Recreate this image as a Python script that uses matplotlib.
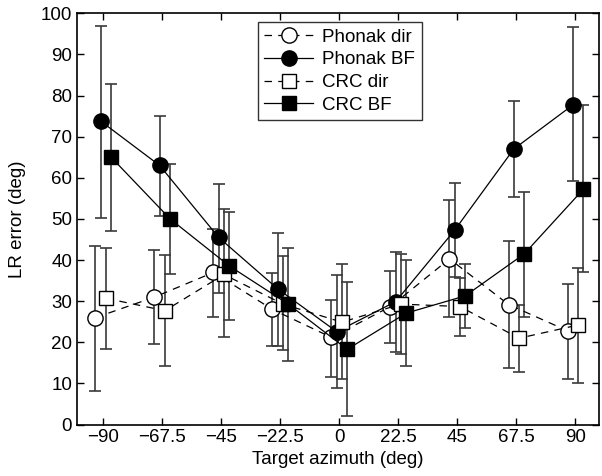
import numpy as np
import matplotlib
matplotlib.use('Agg')
import matplotlib.pyplot as plt

plt.rcParams['font.family'] = ['Liberation Sans', 'DejaVu Sans']
plt.rcParams['font.size'] = 13.5

# азимуты и значения (читаются с графика)
angles = [-90, -67.5, -45, -22.5, 0, 22.5, 45, 67.5, 90]

phonak_dir = [26.0, 31.0, 37.0, 28.0, 21.2, 28.7, 40.3, 29.2, 22.8]
phonak_dir_hi = [43.4, 42.5, 47.6, 36.8, 30.3, 37.3, 54.5, 44.6, 34.1]
phonak_dir_lo = [8.2, 19.6, 26.2, 19.2, 11.6, 19.8, 26.1, 13.7, 11.2]

phonak_bf = [73.8, 63.0, 45.5, 33.0, 22.6, 29.9, 47.3, 67.0, 77.7]
phonak_bf_hi = [97.0, 75.1, 58.4, 46.7, 36.4, 42.0, 58.8, 78.7, 96.6]
phonak_bf_lo = [50.3, 50.8, 32.1, 19.2, 9.0, 17.6, 35.8, 55.4, 59.3]

crc_dir = [30.7, 27.7, 36.5, 29.3, 24.9, 29.3, 28.7, 21.0, 24.2]
crc_dir_hi = [42.9, 41.2, 52.4, 41.0, 39.0, 41.6, 35.6, 29.1, 38.0]
crc_dir_lo = [18.4, 14.3, 21.4, 18.1, 11.0, 17.2, 21.5, 12.8, 10.2]

crc_bf = [65.0, 50.0, 38.6, 29.3, 18.3, 27.1, 31.3, 41.5, 57.2]
crc_bf_hi = [82.8, 63.4, 51.7, 43.0, 34.7, 40.0, 39.0, 56.6, 77.7]
crc_bf_lo = [47.1, 36.5, 25.4, 15.5, 2.1, 14.3, 23.6, 26.2, 37.2]

tick_labels = ['\u221290', '\u221267.5', '\u221245', '\u221222.5', '0', '22.5', '45', '67.5', '90']

dash = (0, (6, 5))
series = [
    ('Phonak dir', phonak_dir, phonak_dir_lo, phonak_dir_hi, -3, 'o', 'white', dash),
    ('Phonak BF', phonak_bf, phonak_bf_lo, phonak_bf_hi, -1, 'o', 'black', '-'),
    ('CRC dir', crc_dir, crc_dir_lo, crc_dir_hi, 1, 's', 'white', dash),
    ('CRC BF', crc_bf, crc_bf_lo, crc_bf_hi, 3, 's', 'black', '-'),
]

fig = plt.figure(figsize=(6.02, 4.76), dpi=100)
ax = fig.add_axes([0.128, 0.108, 0.867, 0.864])

x = np.array(angles)
for label, y, lo, hi, off, mk, fc, ls in series:
    y = np.array(y)
    yerr = [y - np.array(lo), np.array(hi) - y]
    ax.errorbar(x + off, y, yerr=yerr, fmt='none', ecolor='#3a3a3a',
                elinewidth=1.2, capsize=4, capthick=1.2, zorder=2)
    ms = 11 if mk == 'o' else 9.5
    ax.plot(x + off, y, linestyle=ls, color='black', linewidth=0.9,
            marker=mk, markersize=ms, markerfacecolor=fc,
            markeredgecolor='black', markeredgewidth=1.0, label=label, zorder=3)

ax.set_xlim(-100, 99)
ax.set_ylim(0, 100)
ax.set_xticks(angles)
ax.set_xticklabels(tick_labels)
ax.set_yticks(range(0, 101, 10))
ax.tick_params(direction='in', top=True, right=True, length=5, width=1, labelsize=13.5)
for s in ax.spines.values():
    s.set_linewidth(1.2)
ax.set_xlabel('Target azimuth (deg)', fontsize=13.5, labelpad=3)
ax.set_ylabel('LR error (deg)', fontsize=13.5, labelpad=11)

leg = ax.legend(loc='upper left', bbox_to_anchor=(0.346, 0.979), frameon=True,
                fancybox=False, edgecolor='black', handlelength=2.6,
                borderpad=0.35, labelspacing=0.3, handletextpad=0.5,
                borderaxespad=0, fontsize=13.5)
leg.get_frame().set_linewidth(1.0)

fig.savefig('out.png', dpi=100)
